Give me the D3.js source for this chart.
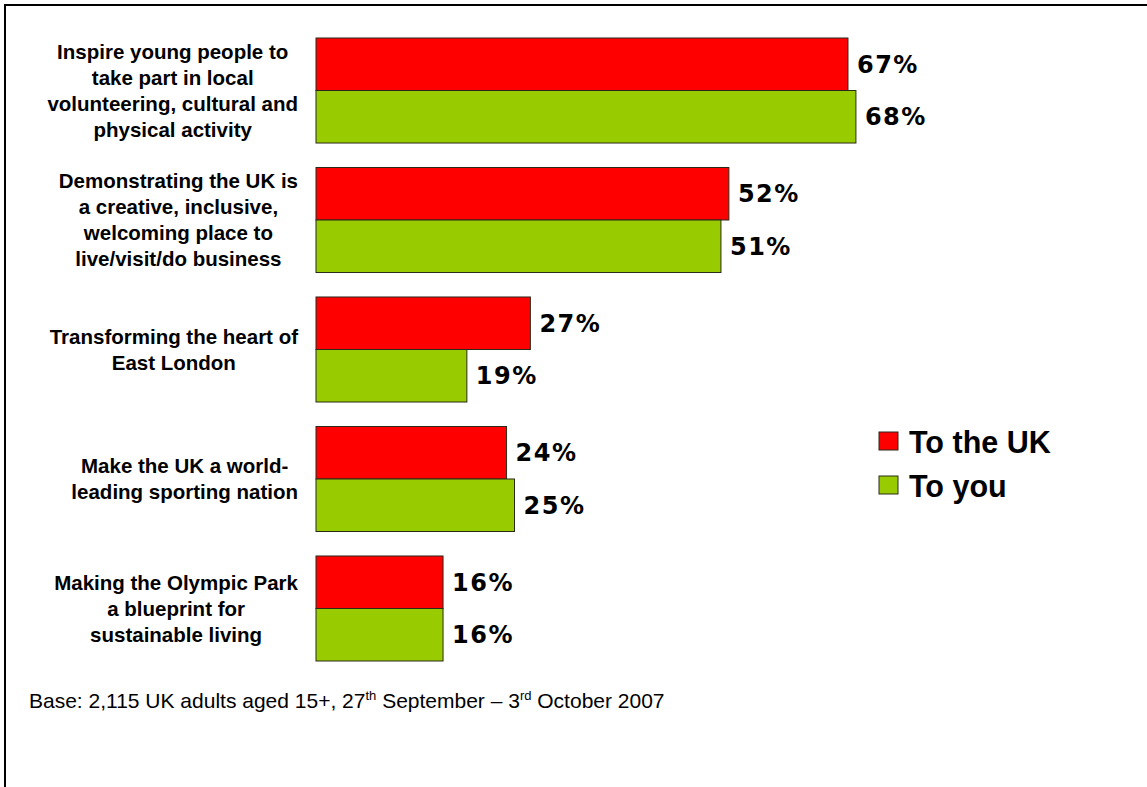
<!DOCTYPE html>
<html>
<head>
<meta charset="utf-8">
<script src="https://cdn.jsdelivr.net/npm/d3@7"></script>
<style>
  html, body { margin: 0; padding: 0; background: #fff; }
  svg { display: block; }
</style>
</head>
<body>
<svg id="chart" width="1147" height="787"></svg>
<script>
// Statements, each split into the lines it is printed on
const categories = [
  ["Inspire young people to", "take part in local", "volunteering, cultural and", "physical activity"],
  ["Demonstrating the UK is", "a creative, inclusive,", "welcoming place to", "live/visit/do business"],
  ["Transforming the heart of", "East London"],
  ["Make the UK a world-", "leading sporting nation"],
  ["Making the Olympic Park", "a blueprint for", "sustainable living"]
];
const seriesNames = ["To the UK", "To you"];
const toTheUK = [67, 52, 27, 24, 16];
const toYou = [68, 51, 19, 25, 16];
const seriesColors = ["#ff0000", "#99cc00"];

const svg = d3.select("#chart");
const W = 1147, H = 787;

// frame: top rule and left rule
svg.append("line").attr("x1", 4).attr("x2", W).attr("y1", 5).attr("y2", 5)
  .attr("stroke", "#000").attr("stroke-width", 2);
svg.append("line").attr("x1", 5).attr("x2", 5).attr("y1", 4).attr("y2", H)
  .attr("stroke", "#000").attr("stroke-width", 2);

const ids = d3.range(categories.length);
const y = d3.scaleBand().domain(ids).range([38, 661]).paddingInner(0.189).paddingOuter(0);
const ySeries = d3.scaleBand().domain([0, 1]).range([0, y.bandwidth()]);
const x = d3.scaleLinear().domain([0, 100]).range([316, 1110]);

const rows = ids.map(i => [toTheUK[i], toYou[i]]);

const groups = svg.append("g").selectAll("g").data(rows).join("g")
  .attr("transform", (d, i) => `translate(0,${y(i)})`);

groups.selectAll("rect").data(d => d).join("rect")
  .attr("x", x(0))
  .attr("y", (d, j) => ySeries(j))
  .attr("width", d => x(d) - x(0))
  .attr("height", ySeries.bandwidth())
  .attr("fill", (d, j) => seriesColors[j])
  .attr("stroke", "#2a2a1a")
  .attr("stroke-width", 1);

groups.selectAll("text.val").data(d => d).join("text")
  .attr("class", "val")
  .attr("x", d => x(d) + 9)
  .attr("y", (d, j) => ySeries(j) + ySeries.bandwidth() / 2)
  .attr("dy", "0.36em")
  .attr("font-family", "'DejaVu Sans', Verdana, sans-serif")
  .attr("font-weight", "bold")
  .attr("font-size", 24)
  .attr("letter-spacing", 1.5)
  .attr("fill", "#000")
  .text(d => d + "%");

// category labels: centred block whose longest line ends at the right edge
const labelRight = 298, lineH = 26;
categories.forEach((lines, i) => {
  const g = svg.append("g");
  const cy = y(i) + y.bandwidth() / 2;
  const t = g.selectAll("text").data(lines).join("text")
    .attr("y", (d, k) => cy + (k - (lines.length - 1) / 2) * lineH)
    .attr("dy", "0.35em")
    .attr("text-anchor", "middle")
    .attr("font-family", "'Liberation Sans', Arial, sans-serif")
    .attr("font-weight", "bold")
    .attr("font-size", 20.5)
    .attr("fill", "#000")
    .text(d => d);
  let maxW = 0;
  t.each(function () { maxW = Math.max(maxW, this.getComputedTextLength()); });
  t.attr("x", labelRight - maxW / 2);
});

// legend
const legend = svg.append("g").selectAll("g").data(seriesNames).join("g")
  .attr("transform", (d, i) => `translate(879,${432 + i * 44})`);
legend.append("rect")
  .attr("width", 19).attr("height", 18)
  .attr("fill", (d, i) => seriesColors[i])
  .attr("stroke", "#2a2a1a").attr("stroke-width", 1);
legend.append("text")
  .attr("x", 30).attr("y", 21)
  .attr("font-family", "'Liberation Sans', Arial, sans-serif")
  .attr("font-weight", "bold")
  .attr("font-size", 30.5)
  .attr("fill", "#000")
  .text(d => d);

// base note
const note = svg.append("text")
  .attr("x", 29).attr("y", 708)
  .attr("font-family", "'Liberation Sans', Arial, sans-serif")
  .attr("font-size", 21)
  .attr("fill", "#000");
note.append("tspan").text("Base: 2,115 UK adults aged 15+, 27");
note.append("tspan").attr("font-size", 13).attr("dy", -8).text("th");
note.append("tspan").attr("dy", 8).text(" September \u2013 3");
note.append("tspan").attr("font-size", 13).attr("dy", -8).text("rd");
note.append("tspan").attr("dy", 8).text(" October 2007");
</script>
</body>
</html>
